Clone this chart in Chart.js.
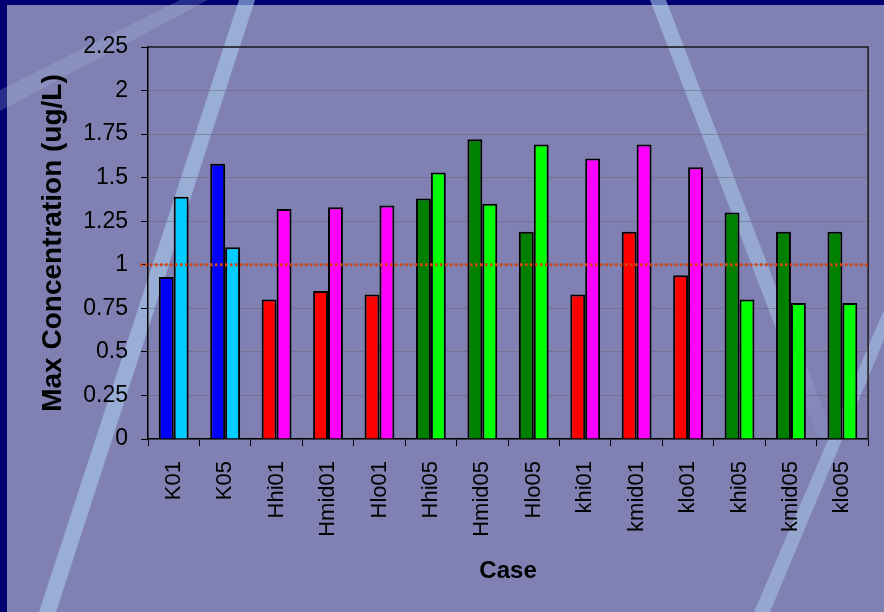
<!DOCTYPE html>
<html>
<head>
<meta charset="utf-8">
<script src="https://cdn.jsdelivr.net/npm/chart.js@4.4.0/dist/chart.umd.min.js"></script>
<style>
  html, body { margin: 0; padding: 0; background: #8080B3; }
  canvas { display: block; }
</style>
</head>
<body>
<canvas id="chart" width="884" height="612"></canvas>
<script>
// Cases along the x axis
const categories = ['K01', 'K05', 'Hhi01', 'Hmid01', 'Hlo01', 'Hhi05', 'Hmid05', 'Hlo05',
                    'khi01', 'kmid01', 'klo01', 'khi05', 'kmid05', 'klo05'];

// Max concentration (ug/L), left and right bar of each case
const firstBarValues  = [0.93, 1.58, 0.80, 0.85, 0.83, 1.38, 1.72, 1.19, 0.83, 1.19, 0.94, 1.30, 1.19, 1.19];
const secondBarValues = [1.39, 1.10, 1.32, 1.33, 1.34, 1.53, 1.35, 1.69, 1.61, 1.69, 1.56, 0.80, 0.78, 0.78];

// Fill colours per case
const firstBarColors  = ['#0000FF', '#0000FF', '#FF0000', '#FF0000', '#FF0000', '#008000', '#008000',
                         '#008000', '#FF0000', '#FF0000', '#FF0000', '#008000', '#008000', '#008000'];
const secondBarColors = ['#00CCFF', '#00CCFF', '#FF00FF', '#FF00FF', '#FF00FF', '#00FF00', '#00FF00',
                         '#00FF00', '#FF00FF', '#FF00FF', '#FF00FF', '#00FF00', '#00FF00', '#00FF00'];

// Value axis labels
const yTickLabels = ['0', '0.25', '0.5', '0.75', '1', '1.25', '1.5', '1.75', '2', '2.25'];

// Reference level drawn as a dotted line
const thresholdValue = 1;

const PURPLE = '#8080B3';
const NAVY = '#000070';

function band(ctx, pts, fill) {
  ctx.beginPath();
  ctx.moveTo(pts[0][0], pts[0][1]);
  for (let i = 1; i < pts.length; i++) ctx.lineTo(pts[i][0], pts[i][1]);
  ctx.closePath();
  ctx.fillStyle = fill;
  ctx.fill();
}

// Slide-style backdrop: purple field, navy frame and pale diagonal streaks
const backdrop = {
  id: 'backdrop',
  beforeDraw(chart) {
    const ctx = chart.ctx;
    const w = chart.width, h = chart.height;
    ctx.save();
    ctx.fillStyle = PURPLE;
    ctx.fillRect(0, 0, w, h);
    ctx.fillStyle = NAVY;
    ctx.fillRect(0, 0, w, 5);
    ctx.fillRect(0, 0, 7, h);

    // wide faint streak, upper left
    band(ctx, [[0, 90], [180, 0], [208, 0], [0, 111]], 'rgba(175,205,235,0.22)');
    // narrow streak crossing the value axis
    band(ctx, [[239, 0], [255, 0], [56, 612], [39, 612]], 'rgba(170,205,235,0.6)');
    // streak from the top, fading toward the lower right
    const g = ctx.createLinearGradient(0, 0, 0, 480);
    g.addColorStop(0, 'rgba(170,205,235,0.6)');
    g.addColorStop(0.65, 'rgba(170,205,235,0.5)');
    g.addColorStop(0.75, 'rgba(170,205,235,0.2)');
    g.addColorStop(1, 'rgba(170,205,235,0.0)');
    band(ctx, [[650, 0], [666, 0], [850, 480], [834, 480]], g);
    // streak entering from the right edge
    band(ctx, [[884, 310], [893, 318], [770, 612], [754, 612]], 'rgba(170,205,235,0.5)');
    ctx.restore();
  }
};

// Plot frame (top and right edges) and the dotted reference line
const overlay = {
  id: 'overlay',
  afterDatasetsDraw(chart) {
    const ctx = chart.ctx;
    const a = chart.chartArea;
    const y = chart.scales.y.getPixelForValue(thresholdValue);
    ctx.save();
    ctx.strokeStyle = '#1a1a1a';
    ctx.lineWidth = 1.5;
    ctx.beginPath();
    ctx.moveTo(a.left, a.top);
    ctx.lineTo(a.right, a.top);
    ctx.lineTo(a.right, a.bottom);
    ctx.stroke();

    ctx.strokeStyle = '#D8440F';
    ctx.lineWidth = 3;
    ctx.setLineDash([2.5, 2.5]);
    ctx.beginPath();
    ctx.moveTo(a.left - 8, y);
    ctx.lineTo(a.right, y);
    ctx.stroke();
    ctx.restore();
  }
};

const fontFamily = "'Liberation Sans', Arial, sans-serif";

new Chart(document.getElementById('chart'), {
  type: 'bar',
  data: {
    labels: categories,
    datasets: [
      {
        data: firstBarValues,
        backgroundColor: firstBarColors,
        borderColor: '#000000',
        borderWidth: 2,
        categoryPercentage: 0.58,
        barPercentage: 1.0
      },
      {
        data: secondBarValues,
        backgroundColor: secondBarColors,
        borderColor: '#000000',
        borderWidth: 2,
        categoryPercentage: 0.58,
        barPercentage: 1.0
      }
    ]
  },
  options: {
    responsive: false,
    animation: false,
    devicePixelRatio: 1,
    layout: { padding: { top: 47, right: 6, left: 0, bottom: 0 } },
    plugins: {
      legend: { display: false },
      tooltip: { enabled: false }
    },
    scales: {
      x: {
        grid: {
          display: true,
          drawOnChartArea: false,
          drawTicks: true,
          tickLength: 7,
          tickColor: '#000000',
          offset: true
        },
        border: { display: true, color: '#000000', width: 1.5 },
        ticks: {
          color: '#000000',
          font: { family: fontFamily, size: 22 },
          maxRotation: 90,
          minRotation: 90,
          autoSkip: false,
          padding: 15
        },
        title: {
          display: true,
          text: 'Case',
          color: '#000000',
          font: { family: fontFamily, size: 24, weight: 'bold' },
          padding: { top: 0, bottom: 26 }
        },
        afterFit(scale) { scale.height = 173; }
      },
      y: {
        min: 0,
        max: 2.25,
        grid: {
          color: 'rgba(100,100,112,0.5)',
          lineWidth: 1,
          drawTicks: true,
          tickLength: 7,
          tickColor: '#000000'
        },
        border: { display: true, color: '#000000', width: 1.5 },
        ticks: {
          stepSize: 0.25,
          color: '#000000',
          font: { family: fontFamily, size: 23 },
          padding: 13,
          callback: (value, index) => yTickLabels[index]
        },
        title: {
          display: true,
          text: 'Max Concentration (ug/L)',
          color: '#000000',
          font: { family: fontFamily, size: 28, weight: 'bold' },
          padding: { top: 36, bottom: 0 }
        },
        afterFit(scale) { scale.width = 148; }
      }
    }
  },
  plugins: [backdrop, overlay]
});
</script>
</body>
</html>
